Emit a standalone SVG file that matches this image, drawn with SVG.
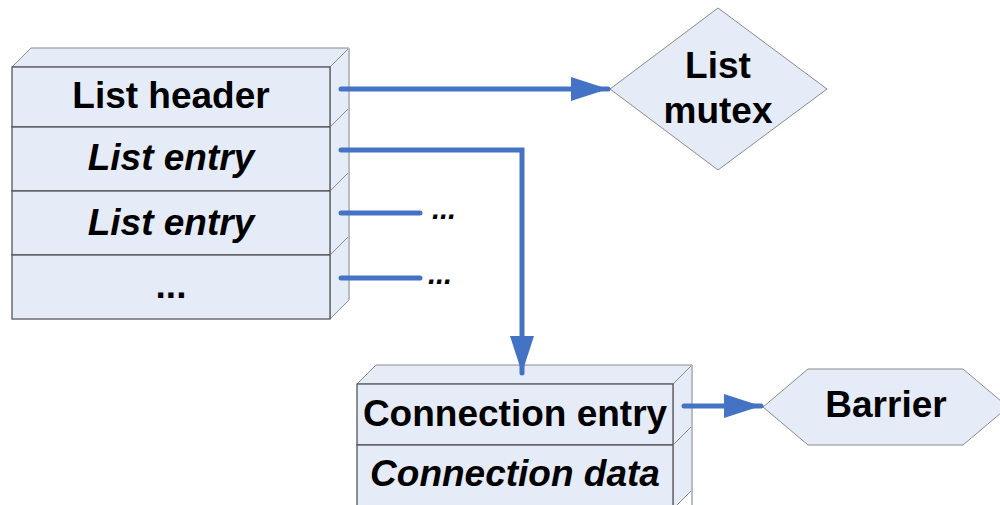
<svg xmlns="http://www.w3.org/2000/svg" width="1000" height="505" viewBox="0 0 1000 505">
  <style>
    .front { fill: #E6ECF7; stroke: #4a4a4a; stroke-width: 1.2; }
    .face { fill: #E6ECF7; stroke: #8a8a8a; stroke-width: 1; stroke-linejoin: round; }
    .edge { fill: none; stroke: #b8bcc4; stroke-width: 2; }
    .shape { fill: #E6ECF7; stroke: #8a8a8a; stroke-width: 1; }
    .lbl { font-family: "Liberation Sans", Arial, sans-serif; font-weight: bold; font-size: 37px; fill: #000; text-anchor: middle; }
    .it { font-style: italic; }
    .dots { font-family: "Liberation Sans", Arial, sans-serif; font-weight: bold; font-style: italic; font-size: 29px; fill: #000; }
    .wire { fill: none; stroke: #4472C4; stroke-width: 5; stroke-linecap: round; stroke-linejoin: miter; }
  </style>
  <defs>
    <marker id="head" markerUnits="userSpaceOnUse" markerWidth="40" markerHeight="26" refX="37" refY="12" orient="auto">
      <path d="M0,0 L37,12 L0,24 Z" fill="#4472C4"/>
    </marker>
  </defs>

  <!-- list stack -->
  <g id="list-header">
    <polygon class="face" points="12,67 31,48 349,48 330,67"/>
    <polygon class="face" points="330,67 349,48 349,108 330,127"/>
    <rect class="front" x="12" y="67" width="318" height="60"/>
    <text class="lbl" x="171" y="108">List header</text>
  </g>
  <g id="list-entry-1">
    <polygon class="face" points="330,127 349,108 349,172 330,191"/>
    <rect class="front" x="12" y="127" width="318" height="64"/>
    <text class="lbl it" x="171" y="170">List entry</text>
  </g>
  <g id="list-entry-2">
    <polygon class="face" points="330,191 349,172 349,236 330,255"/>
    <rect class="front" x="12" y="191" width="318" height="64"/>
    <text class="lbl it" x="171" y="235">List entry</text>
  </g>
  <g id="list-more">
    <polygon class="face" points="330,255 349,236 349,300 330,319"/>
    <rect class="front" x="12" y="255" width="318" height="64"/>
    <text class="lbl" x="171" y="298">...</text>
  </g>
  <line class="edge" x1="349" y1="48" x2="349" y2="300"/>

  <!-- mutex -->
  <g id="list-mutex">
    <polygon class="shape" points="610,89 718,8 827,89 718,170"/>
    <text class="lbl" x="718" y="78">List</text>
    <text class="lbl" x="718" y="123">mutex</text>
  </g>

  <!-- connection stack -->
  <g id="connection-entry">
    <polygon class="face" points="357,384 376,365 692,365 673,384"/>
    <polygon class="face" points="673,384 692,365 692,426 673,445"/>
    <rect class="front" x="357" y="384" width="316" height="61"/>
    <text class="lbl" x="515" y="426">Connection entry</text>
  </g>
  <g id="connection-data">
    <polygon class="face" points="673,445 692,426 692,490 673,509"/>
    <rect class="front" x="357" y="445" width="316" height="64"/>
    <text class="lbl it" x="515" y="486">Connection data</text>
  </g>
  <line class="edge" x1="692" y1="365" x2="692" y2="505"/>

  <!-- barrier -->
  <g id="barrier">
    <polygon class="shape" points="763,407 808,369 963,369 1008,407 963,445 808,445"/>
    <text class="lbl" x="886" y="417">Barrier</text>
  </g>

  <!-- connectors -->
  <g id="connectors">
    <line class="wire" x1="341" y1="89" x2="608" y2="89" marker-end="url(#head)"/>
    <polyline class="wire" points="341,150 522,150 522,373" marker-end="url(#head)"/>
    <line class="wire" x1="341" y1="213" x2="420" y2="213"/>
    <line class="wire" x1="341" y1="278" x2="420" y2="278"/>
    <line class="wire" x1="684" y1="406" x2="761" y2="406" marker-end="url(#head)"/>
  </g>
  <text class="dots" x="432" y="219">...</text>
  <text class="dots" x="428" y="284">...</text>
</svg>
